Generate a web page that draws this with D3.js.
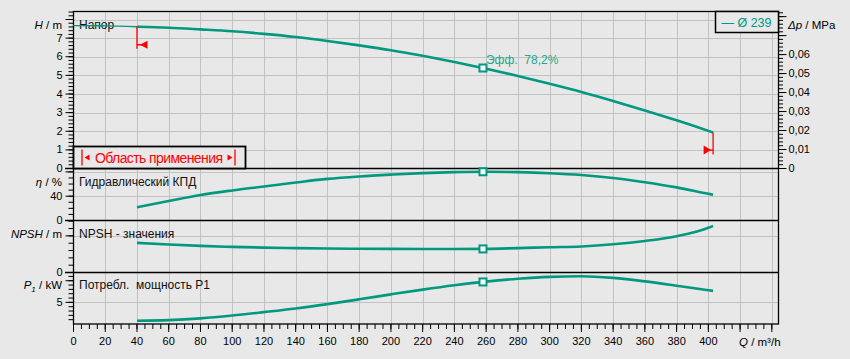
<!DOCTYPE html>
<html>
<head>
<meta charset="utf-8">
<script src="https://cdn.jsdelivr.net/npm/d3@7"></script>
<style>
	body { margin: 0; background: #e8e8e8; }
	svg { display: block; font-family: "Liberation Sans", Arial, sans-serif; }
	.axis path { display: none; }
	.axis line { stroke: #000; }
	.axis text { font-size: 11px; fill: #000; font-family: "Liberation Sans", Arial, sans-serif; }
</style>
</head>
<body>
<script>
'use strict'

// head curve, Q in m³/h, H in m
const qHead = [0, 20, 40, 60, 80, 100, 120, 140, 160, 180, 200, 220, 240, 260, 280, 300, 320, 340, 360, 380, 400, 403];
const headM = [7.67, 7.66, 7.61, 7.56, 7.47, 7.37, 7.23, 7.06, 6.85, 6.61, 6.35, 6.05, 5.72, 5.36, 4.97, 4.55, 4.11, 3.63, 3.12, 2.59, 2.02, 1.93];

// lower panels, operating range only
const qOp = [40, 60, 80, 100, 120, 140, 160, 180, 200, 220, 240, 260, 280, 300, 320, 340, 360, 380, 400, 403];
const effPct = [21.7, 32, 42, 49.5, 56, 62.5, 68.5, 72.5, 75.5, 78, 79.6, 80.3, 79.6, 77.8, 74.8, 70, 63, 54.5, 44, 42.5];
const npshM = [4.04, 3.82, 3.63, 3.5, 3.4, 3.33, 3.28, 3.24, 3.22, 3.21, 3.21, 3.22, 3.33, 3.45, 3.56, 3.85, 4.3, 4.95, 6.1, 6.37];
const powerKw = [0.76, 0.9, 1.3, 1.95, 2.75, 3.6, 4.6, 5.7, 6.85, 7.95, 8.95, 9.8, 10.45, 10.9, 11.05, 10.65, 9.85, 8.85, 7.8, 7.65];

const dutyQ = 258;
const dutyLabel = "Эфф.  78,2%";
const rangeQ = [40, 403];
const legendLabel = "— Ø 239";

// tick labels
const xTickLabels = [0, 20, 40, 60, 80, 100, 120, 140, 160, 180, 200, 220, 240, 260, 280, 300, 320, 340, 360, 380, 400];
const headTickLabels = [0, 1, 2, 3, 4, 5, 6, 7];
const dpTickLabels = [0, 0.01, 0.02, 0.03, 0.04, 0.05, 0.06];
const effTickLabels = [0, 40];
const npshTickLabels = [0];
const powerTickLabels = [5];

const w = 850;
const h = 359;
const pl = 73.5, pr = 778.5, pt = 11.5, pb = 324;
const sep1 = 168.5, sep2 = 220.5, sep3 = 272.5;
const teal = "#00997f";
const grid = "#c2c2c2";

const x = d3.scaleLinear().domain([0, 444.2]).range([pl, pr]);
const yHead = d3.scaleLinear().domain([0, 8.43]).range([sep1, pt]);
const yDp = d3.scaleLinear().domain([0, 8.43 * 0.00981]).range([sep1, pt]);
const yEff = d3.scaleLinear().domain([0, 85.6]).range([sep2, sep1]);
const yNpsh = d3.scaleLinear().domain([0, 7.1]).range([sep3, sep2]);
const yPow = d3.scaleLinear().domain([0, 11.9]).range([pb, sep3]);

const svg = d3.select("body")
	.append("svg")
	.attr("width", w)
	.attr("height", h);

svg.append("rect")
	.attr("width", w)
	.attr("height", h)
	.attr("fill", "#e8e8e8");

// grid
const g = svg.append("g").attr("stroke", grid).attr("stroke-width", 1);

g.selectAll(".vgrid")
	.data(d3.range(20, 441, 20))
	.enter()
	.append("line")
	.attr("x1", (d) => Math.round(x(d)) + 0.5)
	.attr("x2", (d) => Math.round(x(d)) + 0.5)
	.attr("y1", pt)
	.attr("y2", pb);

const hLines = [
	...d3.range(1, 9).map((d) => yHead(d)),
	yEff(40), yEff(80), yNpsh(5), yPow(5)
];
g.selectAll(".hgrid")
	.data(hLines)
	.enter()
	.append("line")
	.attr("x1", pl)
	.attr("x2", pr)
	.attr("y1", (d) => Math.round(d) + 0.5)
	.attr("y2", (d) => Math.round(d) + 0.5);

// frame and panel separators
svg.append("rect")
	.attr("x", pl)
	.attr("y", pt)
	.attr("width", pr - pl)
	.attr("height", pb - pt)
	.attr("fill", "none")
	.attr("stroke", "#000")
	.attr("stroke-width", 1.3);

svg.selectAll(".sep")
	.data([sep1, sep2, sep3])
	.enter()
	.append("line")
	.attr("x1", 65)
	.attr("x2", pr)
	.attr("y1", (d) => d)
	.attr("y2", (d) => d)
	.attr("stroke", "#000")
	.attr("stroke-width", 1.3);

const comma = (d) => d === 0 ? "0" : d3.format(".2f")(d).replace(".", ",");
const near = (arr, d) => arr.some((v) => Math.abs(v - d) < 1e-6);

function leftAxis(scale, major, minor, labels, fmt) {
	svg.append("g")
		.attr("class", "axis")
		.attr("transform", "translate(" + pl + ",0)")
		.call(d3.axisLeft(scale).offset(0).tickValues(minor).tickSize(5).tickFormat(""));
	svg.append("g")
		.attr("class", "axis")
		.attr("transform", "translate(" + pl + ",0)")
		.call(d3.axisLeft(scale).offset(0).tickValues(major).tickSize(8).tickPadding(3)
			.tickFormat((d) => near(labels, d) ? fmt(d) : ""));
}

leftAxis(yHead, d3.range(0, 8.01, 1), d3.range(0, 8.43, 0.2), headTickLabels, d3.format("d"));
leftAxis(yEff, [0, 40, 80], d3.range(0, 85.6, 10), effTickLabels, d3.format("d"));
leftAxis(yNpsh, [0, 5], d3.range(0, 7.1, 1), npshTickLabels, d3.format("d"));
leftAxis(yPow, [5, 10], d3.range(1, 11.9, 1), powerTickLabels, d3.format("d"));

// right axis, Δp
svg.append("g")
	.attr("class", "axis")
	.attr("transform", "translate(" + pr + ",0)")
	.call(d3.axisRight(yDp).offset(0).tickValues(d3.range(0, 0.0827, 0.002)).tickSize(4.5).tickFormat(""));
svg.append("g")
	.attr("class", "axis")
	.attr("transform", "translate(" + pr + ",0)")
	.call(d3.axisRight(yDp).offset(0).tickValues(d3.range(0, 0.081, 0.01)).tickSize(8).tickPadding(2)
		.tickFormat((d) => near(dpTickLabels, d) ? comma(d) : ""));

// bottom axis
svg.append("g")
	.attr("class", "axis")
	.attr("transform", "translate(0," + pb + ")")
	.call(d3.axisBottom(x).offset(0).tickValues(d3.range(0, 444, 5)).tickSize(5).tickFormat(""));
svg.append("g")
	.attr("class", "axis")
	.attr("transform", "translate(0," + pb + ")")
	.call(d3.axisBottom(x).offset(0).tickValues(d3.range(0, 441, 20)).tickSize(8).tickPadding(5)
		.tickFormat((d) => near(xTickLabels, d) ? d : ""));

// axis titles
function title(xPos, yPos, anchor, parts) {
	const t = svg.append("text")
		.attr("x", xPos)
		.attr("y", yPos)
		.attr("text-anchor", anchor)
		.attr("font-size", 11.5)
		.attr("fill", "#000");
	parts.forEach((p) => {
		const s = t.append("tspan").text(p[0]);
		if (p[1]) s.attr("font-style", "italic");
		if (p[2]) s.attr("font-size", 8).attr("dy", 3);
		if (p[3]) s.attr("dy", -3);
	});
}
title(62, 28.5, "end", [["H", 1], [" / m"]]);
title(62, 186, "end", [["η", 1], [" / %"]]);
title(62, 237.5, "end", [["NPSH", 1], [" / m"]]);
title(62, 289, "end", [["P", 1], ["1", 1, 1], [" / kW", 0, 0, 1]]);
title(788, 28.5, "start", [["Δp", 1], [" / MPa"]]);
title(739, 346, "start", [["Q", 1], [" / m³/h"]]);

// panel names
const names = [["Напор", 29], ["Гидравлический КПД", 186], ["NPSH - значения", 237.5], ["Потребл.  мощность P1", 289]];
svg.selectAll(".pname")
	.data(names)
	.enter()
	.append("text")
	.attr("x", 79)
	.attr("y", (d) => d[1])
	.attr("font-size", 12)
	.attr("fill", "#111")
	.style("white-space", "pre")
	.text((d) => d[0]);

// curves
const headPts = qHead.map((q, i) => [q, headM[i]]);
const lineOf = (ys) => d3.line()
	.x((d) => x(d[0]))
	.y((d) => ys(d[1]))
	.curve(d3.curveMonotoneX);

svg.append("path")
	.attr("d", lineOf(yHead)(headPts.filter((d) => d[0] <= rangeQ[0])))
	.attr("fill", "none")
	.attr("stroke", teal)
	.attr("stroke-width", 1.4);
svg.append("path")
	.attr("d", lineOf(yHead)(headPts.filter((d) => d[0] >= rangeQ[0])))
	.attr("fill", "none")
	.attr("stroke", teal)
	.attr("stroke-width", 2.6);

const lower = [[effPct, yEff], [npshM, yNpsh], [powerKw, yPow]];
lower.forEach((c) => {
	svg.append("path")
		.attr("d", lineOf(c[1])(qOp.map((q, i) => [q, c[0][i]])))
		.attr("fill", "none")
		.attr("stroke", teal)
		.attr("stroke-width", 2.6);
});

// duty point markers
const headAt = d3.scaleLinear().domain(qHead).range(headM);
const markers = [
	yHead(headAt(dutyQ)),
	yEff(d3.scaleLinear().domain(qOp).range(effPct)(dutyQ)),
	yNpsh(d3.scaleLinear().domain(qOp).range(npshM)(dutyQ)),
	yPow(d3.scaleLinear().domain(qOp).range(powerKw)(dutyQ))
];
svg.selectAll(".duty")
	.data(markers)
	.enter()
	.append("rect")
	.attr("x", x(dutyQ) - 3.5)
	.attr("y", (d) => d - 3.5)
	.attr("width", 7)
	.attr("height", 7)
	.attr("fill", "#fff")
	.attr("stroke", teal)
	.attr("stroke-width", 2);

svg.append("text")
	.attr("x", x(dutyQ) + 3)
	.attr("y", yHead(headAt(dutyQ)) - 4)
	.attr("font-size", 12)
	.attr("fill", "#1aa88f")
	.style("white-space", "pre")
	.text(dutyLabel);

// operating range limits
const red = "#ff0000";
const qa = x(rangeQ[0]), qb = x(rangeQ[1]);
const ya = yHead(headAt(rangeQ[0])), yb = yHead(headAt(rangeQ[1]));
svg.append("path")
	.attr("d", "M" + qa + "," + ya + "V" + (ya + 22) + "M" + qa + "," + (ya + 18) + "H" + (qa + 6))
	.attr("stroke", red)
	.attr("stroke-width", 1.3)
	.attr("fill", "none");
svg.append("path")
	.attr("d", "M" + (qa + 3) + "," + (ya + 18) + "L" + (qa + 10.5) + "," + (ya + 14) + "V" + (ya + 22) + "Z")
	.attr("fill", red);
svg.append("path")
	.attr("d", "M" + qb + "," + yb + "V" + (yb + 22) + "M" + qb + "," + (yb + 17.5) + "H" + (qb - 6))
	.attr("stroke", red)
	.attr("stroke-width", 1.3)
	.attr("fill", "none");
svg.append("path")
	.attr("d", "M" + (qb - 2) + "," + (yb + 17.5) + "L" + (qb - 9.5) + "," + (yb + 13) + "V" + (yb + 22) + "Z")
	.attr("fill", red);

// "Область применения" box
svg.append("rect")
	.attr("x", pl)
	.attr("y", 146.5)
	.attr("width", 172)
	.attr("height", sep1 - 146.5)
	.attr("fill", "#e8e8e8")
	.attr("stroke", "#000")
	.attr("stroke-width", 1.8);
svg.append("path")
	.attr("d", "M82,149.5V165.5M235,149.5V165.5")
	.attr("stroke", red)
	.attr("stroke-width", 1.3);
svg.append("path")
	.attr("d", "M84.5,157.5L89.5,154.5V160.5Z M232.5,157.5L227.5,154.5V160.5Z")
	.attr("fill", red);
svg.append("text")
	.attr("x", 95)
	.attr("y", 162.5)
	.attr("font-size", 14)
	.attr("fill", red)
	.attr("textLength", 128)
	.text("Область применения");

// legend
svg.append("rect")
	.attr("x", 715.5)
	.attr("y", pt)
	.attr("width", pr - 715.5)
	.attr("height", 21)
	.attr("fill", "#e8e8e8")
	.attr("stroke", "#000")
	.attr("stroke-width", 1.5);
svg.append("text")
	.attr("x", 721.5)
	.attr("y", 27)
	.attr("font-size", 12.5)
	.attr("fill", teal)
	.text(legendLabel);
</script>
</body>
</html>
